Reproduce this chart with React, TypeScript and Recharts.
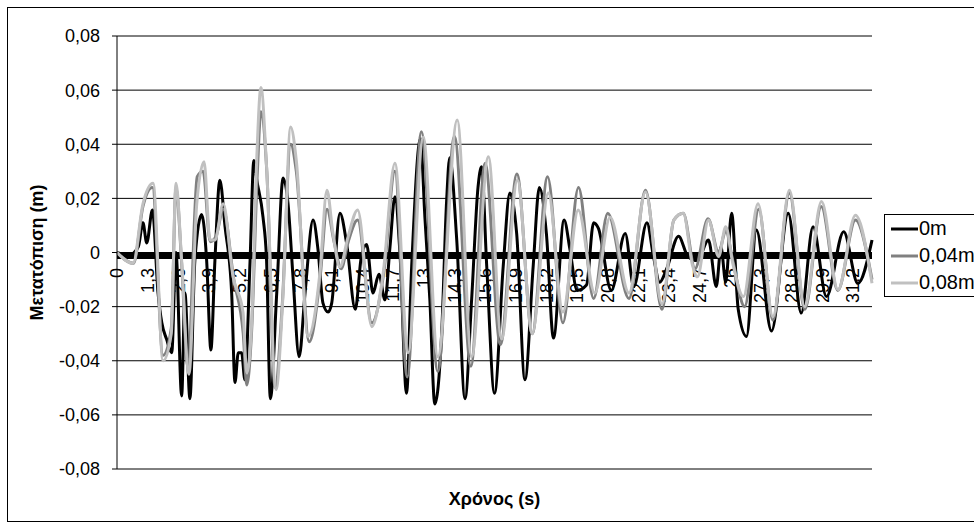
import { LineChart, Line, XAxis, YAxis, CartesianGrid, ReferenceLine, ReferenceDot, Legend, Label } from 'recharts'

// time (s), displacement (m)
const series0m: [number, number][] = [
	[0, 0], [0.5, -0.001], [0.9, 0.002], [1.1, 0.011], [1.26, 0.0035], [1.5, 0.0157], [1.74, -0.015], [1.9, -0.026],
	[2.1, -0.032], [2.32, -0.037], [2.5, 0], [2.74, -0.053], [2.88, -0.015], [3.09, -0.054], [3.3, -0.003], [3.59, 0.014],
	[3.8, -0.003], [3.98, -0.036], [4.15, -0.003], [4.36, 0.0267], [4.58, 0.0095], [4.86, -0.015], [5.0, -0.048], [5.14, -0.037],
	[5.28, -0.037], [5.42, -0.047], [5.64, -0.003], [5.8, 0.034], [5.92, 0.027], [6.19, 0.013], [6.34, -0.003], [6.5, -0.054],
	[6.77, -0.015], [7.04, 0.0275], [7.25, 0.018], [7.46, -0.009], [7.72, -0.0385], [7.97, -0.015], [8.31, 0.012], [8.52, 0.001],
	[8.73, -0.0187], [8.95, -0.022], [9.1, -0.0187], [9.45, 0.0145], [9.73, 0.0035], [10.1, -0.021], [10.35, -0.002], [10.58, 0.003],
	[10.85, -0.015], [11.1, -0.008], [11.36, -0.0175], [11.57, 0.002], [11.78, 0.0206], [12.0, -0.0015], [12.27, -0.052], [12.49, -0.005],
	[12.86, 0.042], [13.05, 0.013], [13.26, -0.0175], [13.47, -0.056], [13.76, -0.03], [13.97, 0.019], [14.1, 0.035], [14.4, 0.0046],
	[14.75, -0.054], [15.03, -0.0175], [15.3, 0.024], [15.45, 0.0317], [15.67, -0.005], [16.0, -0.052], [16.37, -0.005], [16.65, 0.022],
	[16.94, 0.007], [17.29, -0.047], [17.64, -0.005], [17.9, 0.024], [18.2, 0.007], [18.5, -0.0316], [18.95, 0.012], [19.2, 0.001],
	[19.5, -0.014], [19.9, -0.012], [20.2, 0.011], [20.4, 0.009], [20.95, -0.014], [21.54, 0.007], [21.9, -0.0126], [22.46, 0.011],
	[22.74, -0.0015], [23.0, -0.011], [23.3, -0.006], [23.8, 0.006], [24.2, -0.0015], [24.6, -0.003], [25.07, 0.0046], [25.4, -0.0126],
	[25.6, 0.002], [25.8, -0.011], [26.05, 0.0145], [26.33, -0.021], [26.68, -0.031], [27.1, 0.0083], [27.74, -0.029], [28.45, 0.0145],
	[29.0, -0.0224], [29.5, 0.0095], [30.07, -0.0163], [30.8, 0.0077], [31.4, -0.0114], [32.0, 0.0046],
]

const series004m: [number, number][] = [
	[0, 0], [0.7, -0.004], [1.1, 0.017], [1.5, 0.024], [1.95, -0.038], [2.3, -0.028], [2.5, 0.024], [2.74, -0.004],
	[3.0, -0.042], [3.4, 0.028], [3.65, 0.03], [3.95, 0.004], [4.2, 0.006], [4.5, 0.016], [4.95, -0.01], [5.35, -0.03],
	[5.5, -0.049], [5.7, -0.03], [5.95, 0.03], [6.1, 0.052], [6.35, 0.03], [6.7, -0.05], [7.0, -0.02], [7.36, 0.04],
	[7.6, 0.03], [8.15, -0.033], [8.6, -0.01], [8.9, 0.016], [9.2, 0.004], [9.5, -0.006], [9.8, 0.004], [10.2, 0.012],
	[10.8, -0.026], [11.3, -0.008], [11.78, 0.03], [12.3, -0.046], [12.9, 0.0446], [13.6, -0.044], [14.3, 0.043], [15.0, -0.042],
	[15.6, 0.033], [16.25, -0.034], [16.95, 0.029], [17.6, -0.03], [18.25, 0.028], [18.9, -0.026], [19.56, 0.024], [20.2, -0.017],
	[20.8, 0.0145], [21.7, -0.017], [22.4, 0.023], [23.1, -0.021], [23.6, 0.012], [24.0, 0.0145], [24.5, -0.006], [25.05, 0.0125],
	[25.5, 0], [25.8, 0.008], [26.1, -0.003], [26.6, -0.02], [27.2, 0.016], [27.8, -0.025], [28.5, 0.022], [29.15, -0.021],
	[29.85, 0.017], [30.55, -0.014], [31.3, 0.012], [32.0, -0.01],
]

const series008m: [number, number][] = [
	[0, 0], [0.68, -0.004], [1.1, 0.018], [1.53, 0.0256], [1.95, -0.04], [2.3, -0.03], [2.5, 0.0256], [2.74, -0.003],
	[3.05, -0.045], [3.38, 0.018], [3.69, 0.0335], [3.94, 0.0046], [4.15, 0.0046], [4.5, 0.018], [4.92, -0.009], [5.34, -0.022],
	[5.5, -0.0445], [5.7, -0.0275], [5.92, 0.034], [6.1, 0.061], [6.34, 0.0317], [6.74, -0.0507], [7.04, -0.015], [7.36, 0.0464],
	[7.6, 0.034], [8.1, -0.031], [8.6, -0.0076], [8.9, 0.023], [9.15, 0.0072], [9.45, -0.0053], [9.79, 0.0057], [10.2, 0.0157],
	[10.8, -0.0274], [11.28, -0.0077], [11.78, 0.033], [12.34, -0.037], [12.98, 0.0427], [13.6, -0.0385], [14.42, 0.049], [15.03, -0.0385],
	[15.74, 0.0354], [16.3, -0.032], [16.97, 0.0267], [17.6, -0.03], [18.28, 0.022], [18.9, -0.022], [19.55, 0.0157], [20.25, -0.015],
	[20.9, 0.013], [21.7, -0.015], [22.4, 0.0224], [23.1, -0.019], [23.6, 0.012], [24.0, 0.0145], [24.4, -0.005], [24.6, -0.009],
	[25.07, 0.012], [25.5, -0.0015], [25.8, 0.0095], [26.1, -0.004], [26.55, -0.0163], [27.17, 0.018], [27.8, -0.0237], [28.5, 0.023],
	[29.15, -0.02], [29.86, 0.0188], [30.56, -0.0138], [31.3, 0.0138], [32.0, -0.0114],
]

const seriesNames = ['0m', '0,04m', '0,08m']
const seriesColors = ['#000000', '#808080', '#c0c0c0']
const yTicks = [-0.08, -0.06, -0.04, -0.02, 0, 0.02, 0.04, 0.06, 0.08]
const xTickLabels = ['0', '1,3', '2,6', '3,9', '5,2', '6,5', '7,8', '9,1', '10,4', '11,7', '13', '14,3', '15,6', '16,9', '18,2', '19,5', '20,8', '22,1', '23,4', '24,7', '26', '27,3', '28,6', '29,9', '31,2']
const xTickValues = [0, 1.3, 2.6, 3.9, 5.2, 6.5, 7.8, 9.1, 10.4, 11.7, 13, 14.3, 15.6, 16.9, 18.2, 19.5, 20.8, 22.1, 23.4, 24.7, 26, 27.3, 28.6, 29.9, 31.2]

const FONT = '"Liberation Sans", Arial, sans-serif'

const toRows = (s: [number, number][]) => s.map(([t, v]) => ({ t, v }))

const fmtY = (v: number) => (v === 0 ? '0' : v.toFixed(2).replace('.', ','))

const LegendBox = () => (
	<div style={{ border: '1px solid #000', background: '#fff', width: 120, padding: '0 0 0 5px', fontSize: 20, fontFamily: FONT }}>
		{seriesNames.map((name, i) => (
			<div key={name} style={{ display: 'flex', alignItems: 'center', height: 27 }}>
				<svg width={29} height={6}>
					<line x1={1} x2={28} y1={3} y2={3} stroke={seriesColors[i]} strokeWidth={3} />
				</svg>
				<span style={{ marginLeft: 0 }}>{name}</span>
			</div>
		))}
	</div>
)

const App = () => {
	const lines = [series0m, series004m, series008m]
	return (
		<div style={{ position: 'fixed', left: 0, top: 0, width: 974, height: 527, overflow: 'hidden', background: '#fff' }}>
			<div style={{ position: 'absolute', left: 7, top: 7, width: 1000, height: 513, border: '1px solid #000' }} />
			<div style={{ position: 'absolute', left: 0, top: 0 }}>
				<LineChart width={974} height={527} margin={{ top: 36, right: 102, bottom: 0, left: 0 }} style={{ fontFamily: FONT }}>
					<CartesianGrid vertical={false} stroke="#000" strokeDasharray="" />
					<XAxis
						dataKey="t"
						type="number"
						domain={[0, 32]}
						height={58}
						axisLine={false}
						tickLine={false}
						tick={false}
						allowDuplicatedCategory={false}
					>
						<Label
							content={({ viewBox }: any) => (
								<text x={viewBox.x + viewBox.width / 2} y={499} textAnchor="middle" dominantBaseline="central" fontSize={18} fontWeight="bold" fill="#000">
									Χρόνος (s)
								</text>
							)}
						/>
					</XAxis>
					<YAxis
						type="number"
						domain={[-0.08, 0.08]}
						ticks={yTicks}
						interval={0}
						width={117}
						tickFormatter={fmtY}
						stroke="#000"
						tickSize={5}
						tickMargin={12}
						tick={{ fill: '#000', fontSize: 18 }}
					>
						<Label
							content={({ viewBox }: any) => {
								const cy = viewBox.y + viewBox.height / 2
								return (
									<text x={37} y={cy} transform={`rotate(-90, 37, ${cy})`} textAnchor="middle" dominantBaseline="central" fontSize={18} fontWeight="bold" fill="#000">
										Μετατόπιση (m)
									</text>
								)
							}}
						/>
					</YAxis>
					<ReferenceLine
						y={0}
						zIndex={0}
						shape={(p: any) => <line x1={p.x1} x2={p.x2} y1={p.y1 + 3} y2={p.y2 + 3} stroke="#000" strokeWidth={7} />}
					/>
					{xTickValues.map((t, i) => (
						<ReferenceDot
							key={t}
							x={t}
							y={0}
							r={0}
							zIndex={0}
							shape={(p: any) => {
								const y = p.cy + 15.5
								return (
									<text x={p.cx} y={y} dy="0.35em" transform={`rotate(-90, ${p.cx}, ${y})`} textAnchor="end" fontSize={18} fill="#000">
										{xTickLabels[i]}
									</text>
								)
							}}
						/>
					))}
					{lines.map((s, i) => (
						<Line
							key={seriesNames[i]}
							data={toRows(s)}
							dataKey="v"
							name={seriesNames[i]}
							type="monotone"
							stroke={seriesColors[i]}
							strokeWidth={3}
							dot={false}
							activeDot={false}
							isAnimationActive={false}
						/>
					))}
					<Legend
						layout="vertical"
						align="center"
						verticalAlign="middle"
						content={() => <LegendBox />}
						wrapperStyle={{ left: 884, top: 214, width: 130 }}
					/>
				</LineChart>
			</div>
		</div>
	)
}

export default App
